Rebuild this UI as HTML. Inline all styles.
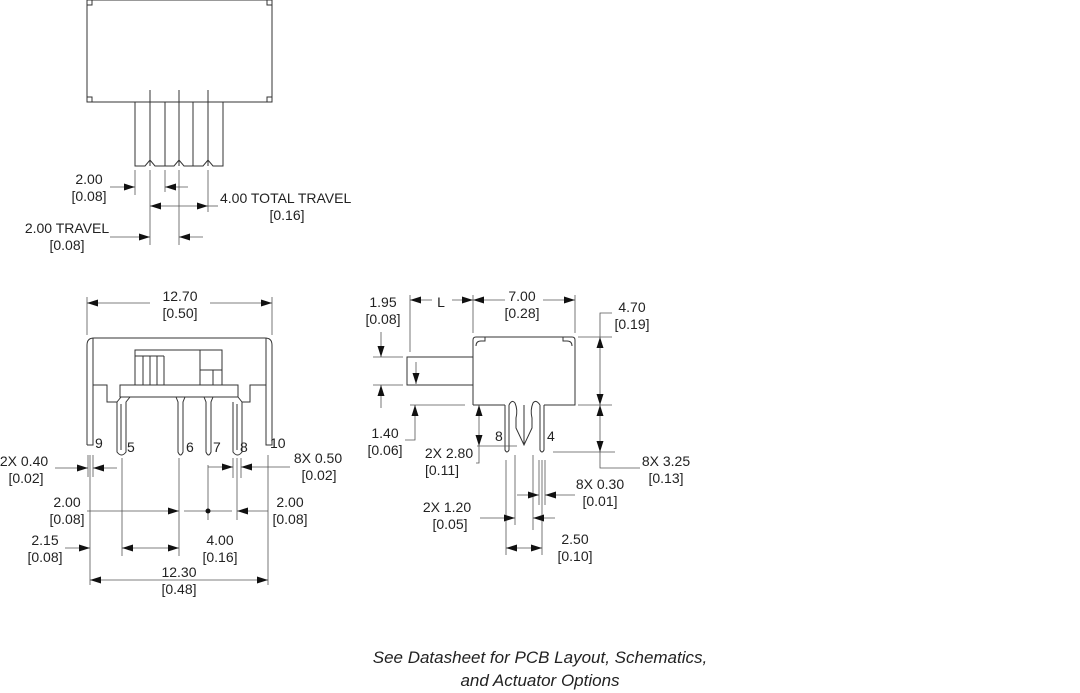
<!DOCTYPE html>
<html><head><meta charset="utf-8"><style>
html,body{margin:0;padding:0;background:#fff;}
svg{display:block;}
text{font-family:"Liberation Sans",sans-serif;font-size:14px;fill:#222;}
.l{stroke:#333;stroke-width:1;fill:none;}
.t{stroke:#555;stroke-width:0.8;fill:none;}
.f{font-family:"Liberation Sans",sans-serif;font-style:italic;font-size:17px;fill:#222;}
</style></head><body>
<svg width="1080" height="693" viewBox="0 0 1080 693">
<defs>
<marker id="a" markerUnits="userSpaceOnUse" markerWidth="12" markerHeight="8" refX="11" refY="3.5" orient="auto"><path d="M0,0 L11,3.5 L0,7 z" fill="#111"/></marker>
</defs>
<g class="l">
<rect x="87" y="0" width="185" height="102"/>
<rect x="87" y="0" width="5" height="5"/><rect x="267" y="0" width="5" height="5"/>
<rect x="87" y="97" width="5" height="5"/><rect x="267" y="97" width="5" height="5"/>
<path d="M135,102 V166 H145 L150,160 L155,166 H174 L179,160 L184,166 H203 L208,160 L213,166 H223 V102"/>
<line x1="165" y1="102" x2="165" y2="166"/><line x1="193" y1="102" x2="193" y2="166"/>
<line x1="150" y1="90" x2="150" y2="166"/><line x1="179" y1="90" x2="179" y2="166"/><line x1="208" y1="90" x2="208" y2="166"/>
</g>
<g class="t">
<line x1="135" y1="170" x2="135" y2="195"/><line x1="150" y1="170" x2="150" y2="245"/>
<line x1="165" y1="170" x2="165" y2="192"/><line x1="179" y1="170" x2="179" y2="245"/>
<line x1="208" y1="170" x2="208" y2="212"/>
<line x1="110" y1="187" x2="135" y2="187" marker-end="url(#a)"/>
<line x1="188" y1="187" x2="165" y2="187" marker-end="url(#a)"/>
<line x1="179" y1="206" x2="150" y2="206" marker-end="url(#a)"/>
<line x1="179" y1="206" x2="208" y2="206" marker-end="url(#a)"/>
<line x1="208" y1="206" x2="218" y2="206"/>
<line x1="110" y1="237" x2="150" y2="237" marker-end="url(#a)"/>
<line x1="203" y1="237" x2="179" y2="237" marker-end="url(#a)"/>
</g>
<text x="89" y="184" text-anchor="middle">2.00</text><text x="89" y="201" text-anchor="middle">[0.08]</text>
<text x="220" y="203">4.00 TOTAL TRAVEL</text><text x="287" y="220" text-anchor="middle">[0.16]</text>
<text x="67" y="233" text-anchor="middle">2.00 TRAVEL</text><text x="67" y="250" text-anchor="middle">[0.08]</text>

<g class="l">
<path d="M87,445 V345 Q87,338 94,338 H265 Q272,338 272,345 V445 H266 V397"/>
<path d="M87,445 H93 V397"/>
<line x1="93" y1="338" x2="93" y2="397"/><line x1="266" y1="338" x2="266" y2="397"/>
<path d="M93,385 H107 V402 H117"/><path d="M266,385 H250 V402 H242"/>
<rect x="120" y="385" width="118" height="12"/>
<path d="M135,385 V350 H222 V385"/>
<line x1="143" y1="356" x2="143" y2="385"/><line x1="150" y1="356" x2="150" y2="385"/><line x1="157" y1="356" x2="157" y2="385"/><line x1="164" y1="356" x2="164" y2="385"/>
<line x1="135" y1="356" x2="164" y2="356"/>
<line x1="200" y1="350" x2="200" y2="385"/><path d="M200,370 H222"/><line x1="213" y1="370" x2="213" y2="385"/>
<path d="M117,402 V452 Q121.5,458 126,452 V402 L130,397 M117,402 L121,397"/>
<path d="M176,397 L178,402 V452 Q180.5,458 183,452 V402 L185,397"/>
<path d="M204,397 L206,402 V452 Q208.5,458 211,452 V402 L213,397"/>
<path d="M233,402 V452 Q237.5,458 242,452 V402 L238,397"/>
<line x1="121" y1="404" x2="121" y2="450"/><line x1="237" y1="404" x2="237" y2="450"/>
</g>
<text x="95" y="448">9</text><text x="127" y="452">5</text><text x="186" y="452">6</text><text x="213" y="452">7</text><text x="240" y="452">8</text><text x="270" y="448">10</text>
<g class="t">
<line x1="87" y1="297" x2="87" y2="335"/><line x1="272" y1="297" x2="272" y2="335"/>
<line x1="150" y1="303" x2="87" y2="303" marker-end="url(#a)"/><line x1="210" y1="303" x2="272" y2="303" marker-end="url(#a)"/>
<line x1="88" y1="455" x2="88" y2="477"/><line x1="93" y1="455" x2="93" y2="477"/>
<line x1="55" y1="468" x2="88" y2="468" marker-end="url(#a)"/><line x1="117" y1="468" x2="93" y2="468" marker-end="url(#a)"/>
<line x1="233" y1="458" x2="233" y2="478"/><line x1="241" y1="458" x2="241" y2="478"/>
<line x1="208" y1="467" x2="233" y2="467" marker-end="url(#a)"/><line x1="290" y1="467" x2="241" y2="467" marker-end="url(#a)"/>
<line x1="208" y1="465" x2="208" y2="520"/>
<line x1="87" y1="511" x2="179" y2="511" marker-end="url(#a)"/><line x1="184" y1="511" x2="232" y2="511"/>
<line x1="268" y1="511" x2="237" y2="511" marker-end="url(#a)"/>
<line x1="90" y1="455" x2="90" y2="585"/><line x1="268" y1="455" x2="268" y2="585"/>
<line x1="122" y1="458" x2="122" y2="556"/><line x1="179" y1="458" x2="179" y2="556"/><line x1="237" y1="458" x2="237" y2="520"/>
<line x1="65" y1="548" x2="90" y2="548" marker-end="url(#a)"/>
<line x1="150" y1="548" x2="122" y2="548" marker-end="url(#a)"/><line x1="150" y1="548" x2="179" y2="548" marker-end="url(#a)"/>
<line x1="179" y1="580" x2="90" y2="580" marker-end="url(#a)"/><line x1="179" y1="580" x2="268" y2="580" marker-end="url(#a)"/>
</g>
<circle cx="208" cy="511" r="2.5" fill="#111"/>
<text x="180" y="301" text-anchor="middle">12.70</text><text x="180" y="318" text-anchor="middle">[0.50]</text>
<text x="24" y="466" text-anchor="middle">2X 0.40</text><text x="26" y="483" text-anchor="middle">[0.02]</text>
<text x="318" y="463" text-anchor="middle">8X 0.50</text><text x="319" y="480" text-anchor="middle">[0.02]</text>
<text x="67" y="507" text-anchor="middle">2.00</text><text x="67" y="524" text-anchor="middle">[0.08]</text>
<text x="290" y="507" text-anchor="middle">2.00</text><text x="290" y="524" text-anchor="middle">[0.08]</text>
<text x="45" y="545" text-anchor="middle">2.15</text><text x="45" y="562" text-anchor="middle">[0.08]</text>
<text x="220" y="545" text-anchor="middle">4.00</text><text x="220" y="562" text-anchor="middle">[0.16]</text>
<text x="179" y="577" text-anchor="middle">12.30</text><text x="179" y="594" text-anchor="middle">[0.48]</text>

<g class="l">
<path d="M473,405 V340 Q473,337 476,337 H572 Q575,337 575,340 V405 H544 M473,405 H505"/>
<path d="M476,346 Q476,341 481,341 H485 V337"/><path d="M572,346 Q572,341 567,341 H563 V337"/>
<rect x="407" y="357" width="66" height="28"/>
<path d="M505,405 V450 Q507,454 509,450 V405"/>
<path d="M540,405 V450 Q542,454 544,450 V405"/>
<path d="M509,405 Q512,399 515,403 Q518,410 516,418 V428 L524,445 L532,428 V418 Q530,410 533,403 Q536,399 540,405"/>
<line x1="524" y1="405" x2="524" y2="445"/>
</g>
<text x="495" y="441">8</text><text x="547" y="441">4</text>
<g class="t">
<line x1="410" y1="295" x2="410" y2="352"/><line x1="473" y1="295" x2="473" y2="333"/><line x1="575" y1="295" x2="575" y2="333"/>
<line x1="432" y1="300" x2="410" y2="300" marker-end="url(#a)"/><line x1="452" y1="300" x2="473" y2="300" marker-end="url(#a)"/>
<line x1="505" y1="300" x2="473" y2="300" marker-end="url(#a)"/><line x1="543" y1="300" x2="575" y2="300" marker-end="url(#a)"/>
<line x1="373" y1="357" x2="403" y2="357"/><line x1="373" y1="385" x2="403" y2="385"/>
<line x1="381" y1="332" x2="381" y2="357" marker-end="url(#a)"/><line x1="381" y1="408" x2="381" y2="385" marker-end="url(#a)"/>
<line x1="416" y1="362" x2="416" y2="384" marker-end="url(#a)"/>
<line x1="410" y1="405" x2="465" y2="405"/>
<path d="M405,440 H415 V405" marker-end="url(#a)"/>
<line x1="479" y1="425" x2="479" y2="405" marker-end="url(#a)"/><line x1="479" y1="425" x2="479" y2="446" marker-end="url(#a)"/>
<path d="M479,446 V463 H476"/>
<line x1="477" y1="446" x2="517" y2="446"/>
<line x1="578" y1="337" x2="612" y2="337"/><line x1="578" y1="405" x2="612" y2="405"/><line x1="553" y1="452" x2="615" y2="452"/>
<path d="M612,313 H600 V337"/>
<line x1="600" y1="370" x2="600" y2="337" marker-end="url(#a)"/><line x1="600" y1="370" x2="600" y2="405" marker-end="url(#a)"/>
<line x1="600" y1="428" x2="600" y2="405" marker-end="url(#a)"/><line x1="600" y1="428" x2="600" y2="452" marker-end="url(#a)"/>
<path d="M600,452 V468 H640"/>
<line x1="506" y1="460" x2="506" y2="555"/><line x1="515" y1="455" x2="515" y2="525"/>
<line x1="533" y1="455" x2="533" y2="530"/><line x1="539" y1="460" x2="539" y2="505"/><line x1="542" y1="460" x2="542" y2="555"/><line x1="545" y1="460" x2="545" y2="505"/>
<line x1="517" y1="495" x2="539" y2="495" marker-end="url(#a)"/><line x1="575" y1="495" x2="545" y2="495" marker-end="url(#a)"/>
<line x1="480" y1="518" x2="515" y2="518" marker-end="url(#a)"/><line x1="555" y1="518" x2="533" y2="518" marker-end="url(#a)"/>
<line x1="524" y1="548" x2="506" y2="548" marker-end="url(#a)"/><line x1="524" y1="548" x2="542" y2="548" marker-end="url(#a)"/>
</g>
<text x="383" y="307" text-anchor="middle">1.95</text><text x="383" y="324" text-anchor="middle">[0.08]</text>
<text x="441" y="307" text-anchor="middle">L</text>
<text x="522" y="301" text-anchor="middle">7.00</text><text x="522" y="318" text-anchor="middle">[0.28]</text>
<text x="632" y="312" text-anchor="middle">4.70</text><text x="632" y="329" text-anchor="middle">[0.19]</text>
<text x="385" y="438" text-anchor="middle">1.40</text><text x="385" y="455" text-anchor="middle">[0.06]</text>
<text x="449" y="458" text-anchor="middle">2X 2.80</text><text x="442" y="475" text-anchor="middle">[0.11]</text>
<text x="666" y="466" text-anchor="middle">8X 3.25</text><text x="666" y="483" text-anchor="middle">[0.13]</text>
<text x="600" y="489" text-anchor="middle">8X 0.30</text><text x="600" y="506" text-anchor="middle">[0.01]</text>
<text x="447" y="512" text-anchor="middle">2X 1.20</text><text x="450" y="529" text-anchor="middle">[0.05]</text>
<text x="575" y="544" text-anchor="middle">2.50</text><text x="575" y="561" text-anchor="middle">[0.10]</text>

<text class="f" x="540" y="663" text-anchor="middle">See Datasheet for PCB Layout, Schematics,</text>
<text class="f" x="540" y="686" text-anchor="middle">and Actuator Options</text>
</svg>
</body></html>
